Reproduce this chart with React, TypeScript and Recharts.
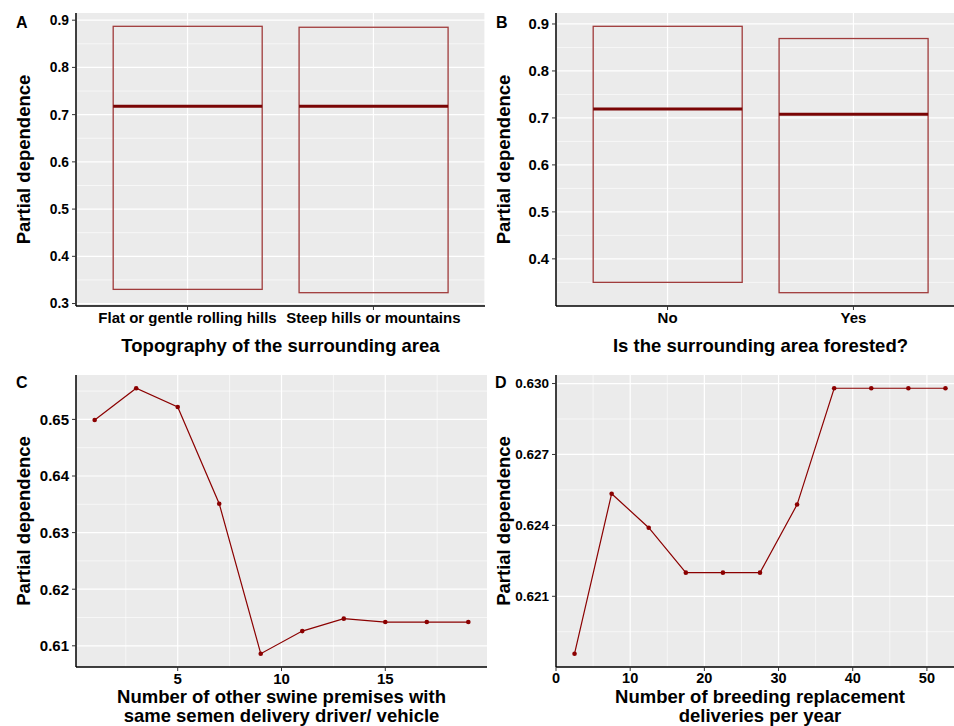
import React from "react";
import {
  ComposedChart,
  LineChart,
  Bar,
  Line,
  XAxis,
  YAxis,
  CartesianGrid,
} from "recharts";

const FONT = "'Liberation Sans', Arial, Helvetica, sans-serif";
const DARK_RED = "#8B0000";
const BOX_RED = "#A03C3C";
const PANEL_BG = "#EBEBEB";

// A: topography
const topoCats = ["Flat or gentle rolling hills", "Steep hills or mountains"];
const topoLow = [0.33, 0.323];
const topoHigh = [0.887, 0.885];
const topoMed = [0.718, 0.718];
const topoTicks = [0.3, 0.4, 0.5, 0.6, 0.7, 0.8, 0.9];
const topoMinor = [0.35, 0.45, 0.55, 0.65, 0.75, 0.85];

// B: forested
const forestCats = ["No", "Yes"];
const forestLow = [0.35, 0.328];
const forestHigh = [0.895, 0.869];
const forestMed = [0.719, 0.708];
const forestTicks = [0.4, 0.5, 0.6, 0.7, 0.8, 0.9];
const forestMinor = [0.35, 0.45, 0.55, 0.65, 0.75, 0.85];

// C: premises sharing semen delivery driver
const semenX = [1, 3, 5, 7, 9, 11, 13, 15, 17, 19];
const semenY = [0.6499, 0.6555, 0.6522, 0.6351, 0.6086, 0.6126, 0.6148, 0.6142, 0.6142, 0.6142];
const semenTicksX = [5, 10, 15];
const semenMinorX = [2.5, 7.5, 12.5, 17.5];
const semenTicksY = [0.61, 0.62, 0.63, 0.64, 0.65];
const semenMinorY = [0.615, 0.625, 0.635, 0.645, 0.655];

// D: breeding replacement deliveries
const breedX = [2.5, 7.5, 12.5, 17.5, 22.5, 27.5, 32.5, 37.5, 42.5, 47.5, 52.5];
const breedY = [0.61857, 0.62534, 0.6239, 0.622, 0.622, 0.622, 0.62488, 0.6298, 0.6298, 0.6298, 0.6298];
const breedTicksX = [0, 10, 20, 30, 40, 50];
const breedMinorX = [5, 15, 25, 35, 45];
const breedTicksY = [0.621, 0.624, 0.627, 0.63];
const breedMinorY = [0.6195, 0.6225, 0.6255, 0.6285];

// ggplot-style 5% expansion
function expand(lo: number, hi: number): [number, number] {
  const d = (hi - lo) * 0.05;
  return [lo - d, hi + d];
}

const tick = (size: number) => ({ fill: "#000", fontSize: size, fontWeight: 700, fontFamily: FONT });
const axisLine = { stroke: "#000", strokeWidth: 1.5 };
const tickLine = { stroke: "#333", strokeWidth: 1 };

function BoxShape(props: any) {
  const { x, y, width, height, payload } = props;
  const top = Math.min(y, y + height);
  const h = Math.abs(height);
  const [lo, hi] = payload.range;
  const my = top + (h * (hi - payload.med)) / (hi - lo);
  return (
    <g>
      <rect x={x} y={top} width={width} height={h} fill="none" stroke={BOX_RED} strokeWidth={1.3} />
      <line x1={x} x2={x + width} y1={my} y2={my} stroke="#7A0505" strokeWidth={3} />
    </g>
  );
}

function xTitle(lines: string[], first: number) {
  return (props: any) => {
    const vb = props.viewBox;
    const cx = vb.x + vb.width / 2;
    return (
      <text textAnchor="middle" fontFamily={FONT} fontWeight={700} fontSize={18.5} fill="#000">
        {lines.map((l, i) => (
          <tspan key={i} x={cx} y={vb.y + first + i * 19} dominantBaseline="central">
            {l}
          </tspan>
        ))}
      </text>
    );
  };
}

function yTitle(props: any) {
  const vb = props.viewBox;
  const cx = vb.x + vb.width - 53;
  const cy = vb.y + vb.height / 2;
  return (
    <text
      x={cx}
      y={cy}
      transform={`rotate(-90, ${cx}, ${cy})`}
      textAnchor="middle"
      dominantBaseline="central"
      fontFamily={FONT}
      fontWeight={700}
      fontSize={18.5}
      fill="#000"
    >
      Partial dependence
    </text>
  );
}

function BoxPanel(props: {
  cats: string[];
  low: number[];
  high: number[];
  med: number[];
  ticks: number[];
  minor: number[];
  title: string;
  ySize: number;
}) {
  const { cats, low, high, med, ticks, minor, title, ySize } = props;
  const data = cats.map((c, i) => ({ cat: c, range: [low[i], high[i]], med: med[i] }));
  const domain = expand(Math.min(...low), Math.max(...high));
  return (
    <ComposedChart width={485} height={363} data={data} margin={{ top: 13, right: 0, bottom: 0, left: 0 }}>
      <CartesianGrid fill={PANEL_BG} stroke="#fff" strokeWidth={0.6} horizontalValues={minor} vertical={false} />
      <CartesianGrid stroke="#fff" strokeWidth={1.2} horizontalValues={ticks} />
      <XAxis
        dataKey="cat"
        type="category"
        padding={{ left: 18.6, right: 18.6 }}
        interval={0}
        tick={tick(15)}
        axisLine={axisLine}
        tickLine={tickLine}
        tickSize={4}
        tickMargin={2}
        height={57}
        label={xTitle([title], 39)}
      />
      <YAxis
        type="number"
        domain={domain}
        ticks={ticks}
        allowDataOverflow
        tickFormatter={(v: number) => v.toFixed(1)}
        tick={tick(ySize)}
        axisLine={axisLine}
        tickLine={tickLine}
        tickSize={4}
        tickMargin={3}
        width={76}
        label={yTitle}
      />
      <Bar dataKey="range" barCategoryGap="5%" shape={BoxShape} isAnimationActive={false} />
    </ComposedChart>
  );
}

function LinePanel(props: {
  xs: number[];
  ys: number[];
  ticksX: number[];
  minorX: number[];
  ticksY: number[];
  minorY: number[];
  digits: number;
  title: string[];
  width: number;
  xSize: number;
  ySize: number;
}) {
  const { xs, ys, ticksX, minorX, ticksY, minorY, digits, title, width, xSize, ySize } = props;
  const data = xs.map((x, i) => ({ x, y: ys[i] }));
  const xDomain = expand(Math.min(...xs), Math.max(...xs));
  const yDomain = expand(Math.min(...ys), Math.max(...ys));
  return (
    <LineChart width={width} height={363} data={data} margin={{ top: 12, right: 0, bottom: 0, left: 0 }}>
      <CartesianGrid fill={PANEL_BG} stroke="#fff" strokeWidth={0.6} horizontalValues={minorY} verticalValues={minorX} />
      <CartesianGrid stroke="#fff" strokeWidth={1.2} horizontalValues={ticksY} verticalValues={ticksX} />
      <XAxis
        dataKey="x"
        type="number"
        domain={xDomain}
        ticks={ticksX}
        allowDataOverflow
        interval={0}
        tick={tick(xSize)}
        axisLine={axisLine}
        tickLine={tickLine}
        tickSize={4}
        tickMargin={2}
        height={59}
        label={xTitle(title, 29)}
      />
      <YAxis
        type="number"
        domain={yDomain}
        ticks={ticksY}
        allowDataOverflow
        tickFormatter={(v: number) => v.toFixed(digits)}
        tick={tick(ySize)}
        axisLine={axisLine}
        tickLine={tickLine}
        tickSize={4}
        tickMargin={3}
        width={76}
        label={yTitle}
      />
      <Line
        type="linear"
        dataKey="y"
        stroke={DARK_RED}
        strokeWidth={1.2}
        dot={{ r: 2.3, fill: DARK_RED, stroke: DARK_RED, strokeWidth: 0 }}
        isAnimationActive={false}
      />
    </LineChart>
  );
}

const letterStyle = { fontFamily: FONT, fontWeight: 700, fontSize: 16, fill: "#000" };

export default function App() {
  return (
    <div
      style={{
        position: "absolute",
        left: 0,
        top: 0,
        width: 954,
        height: 726,
        overflow: "hidden",
        background: "#fff",
      }}
    >
      <div style={{ position: "absolute", left: 0, top: 0 }}>
        <BoxPanel
          cats={topoCats}
          low={topoLow}
          high={topoHigh}
          med={topoMed}
          ticks={topoTicks}
          minor={topoMinor}
          title="Topography of the surrounding area"
          ySize={13.8}
        />
      </div>
      <div style={{ position: "absolute", left: 480, top: 0 }}>
        <BoxPanel
          cats={forestCats}
          low={forestLow}
          high={forestHigh}
          med={forestMed}
          ticks={forestTicks}
          minor={forestMinor}
          title="Is the surrounding area forested?"
          ySize={14.8}
        />
      </div>
      <div style={{ position: "absolute", left: 0, top: 363 }}>
        <LinePanel
          xs={semenX}
          ys={semenY}
          ticksX={semenTicksX}
          minorX={semenMinorX}
          ticksY={semenTicksY}
          minorY={semenMinorY}
          digits={2}
          title={["Number of other swine premises with", "same semen delivery driver/ vehicle"]}
          width={487}
          xSize={15}
          ySize={15}
        />
      </div>
      <div style={{ position: "absolute", left: 480, top: 363 }}>
        <LinePanel
          xs={breedX}
          ys={breedY}
          ticksX={breedTicksX}
          minorX={breedMinorX}
          ticksY={breedTicksY}
          minorY={breedMinorY}
          digits={3}
          title={["Number of breeding replacement", "deliveries per year"]}
          width={484}
          xSize={14.5}
          ySize={13.5}
        />
      </div>
      <svg
        width={954}
        height={726}
        style={{ position: "absolute", left: 0, top: 0, pointerEvents: "none" }}
      >
        <text x={16} y={28} {...letterStyle}>A</text>
        <text x={496} y={28} {...letterStyle}>B</text>
        <text x={16} y={388} {...letterStyle}>C</text>
        <text x={495} y={388} {...letterStyle}>D</text>
      </svg>
    </div>
  );
}
